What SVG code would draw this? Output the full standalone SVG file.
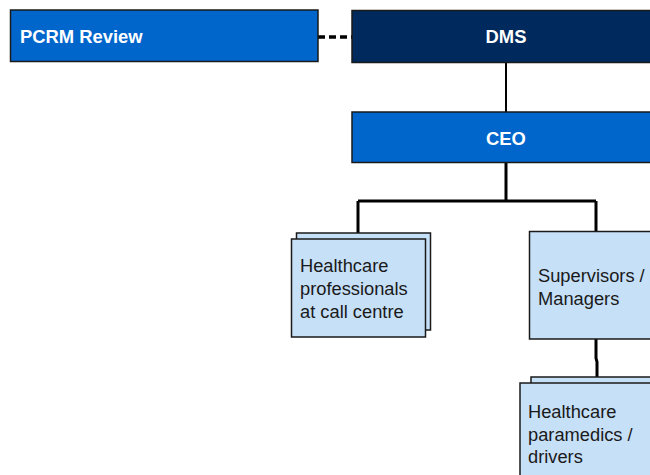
<svg xmlns="http://www.w3.org/2000/svg" width="650" height="475" viewBox="0 0 650 475">
<style>
.box{stroke:#1a1a1a;stroke-width:1.5}
.dark{fill:#002A5E}
.mid{fill:#0066CC}
.light{fill:#C6E0F8}
.wt{font-family:"Liberation Sans",Arial,sans-serif;font-size:18.4px;font-weight:bold;fill:#ffffff}
.bt{font-family:"Liberation Sans",Arial,sans-serif;font-size:18.3px;fill:#1a1a1a}
.ln{stroke:#000;fill:none}
</style>
<rect width="650" height="475" fill="#ffffff"/>
<g id="connectors">
<line class="ln" x1="318" y1="37" x2="352" y2="37" stroke-width="3.5" stroke-dasharray="7,4"/>
<line class="ln" x1="506" y1="62" x2="506" y2="112" stroke-width="2"/>
<path class="ln" d="M506 163 V201 M358 201 H596 M358 201 V233 M596 201 V231" stroke-width="3"/>
<path class="ln" d="M596 339 V358 L597 362 V377" stroke-width="3"/>
</g>
<g id="pcrm">
<rect class="box mid" x="10.5" y="10" width="307.5" height="51.5"/>
<text class="wt" x="20" y="43">PCRM Review</text>
</g>
<g id="dms">
<rect class="box dark" x="352" y="10.5" width="300" height="52"/>
<text class="wt" x="506" y="43" text-anchor="middle">DMS</text>
</g>
<g id="ceo">
<rect class="box mid" x="352" y="112" width="300" height="50.5"/>
<text class="wt" x="506" y="144.5" text-anchor="middle">CEO</text>
</g>
<g id="hpcc">
<rect class="box light" x="296.5" y="233" width="134" height="97"/>
<rect class="box light" x="291.5" y="239" width="134" height="98"/>
<text class="bt" x="300" y="272">Healthcare</text>
<text class="bt" x="300" y="295">professionals</text>
<text class="bt" x="300" y="318">at call centre</text>
</g>
<g id="supervisors">
<rect class="box light" x="529.5" y="231.5" width="125" height="107.5"/>
<text class="bt" x="538" y="282">Supervisors /</text>
<text class="bt" x="538" y="305">Managers</text>
</g>
<g id="paramedics">
<rect class="box light" x="531" y="377" width="125" height="110"/>
<rect class="box light" x="520" y="383" width="135" height="110"/>
<text class="bt" x="528" y="418">Healthcare</text>
<text class="bt" x="528" y="441">paramedics /</text>
<text class="bt" x="528" y="463">drivers</text>
</g>
</svg>
